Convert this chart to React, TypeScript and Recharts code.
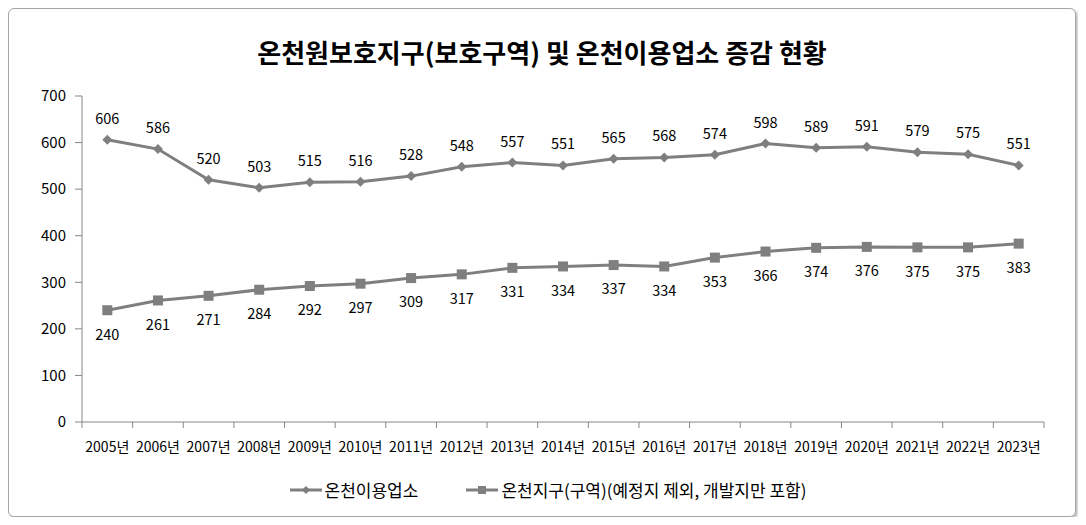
import { LabelList, Legend, Line, LineChart, XAxis, YAxis } from "recharts"

const years = [
  "2005년", "2006년", "2007년", "2008년", "2009년", "2010년", "2011년",
  "2012년", "2013년", "2014년", "2015년", "2016년", "2017년", "2018년",
  "2019년", "2020년", "2021년", "2022년", "2023년",
]
const businesses = [
  606, 586, 520, 503, 515, 516, 528, 548, 557, 551, 565, 568, 574, 598, 589,
  591, 579, 575, 551,
]
const districts = [
  240, 261, 271, 284, 292, 297, 309, 317, 331, 334, 337, 334, 353, 366, 374,
  376, 375, 375, 383,
]
const yTicks = [0, 100, 200, 300, 400, 500, 600, 700]

const SERIES_A = "온천이용업소"
const SERIES_B = "온천지구(구역)(예정지 제외, 개발지만 포함)"

const GREY = "#7f7f7f"
const AXIS = "#868686"
const FONT = '"Noto Sans CJK KR", "Noto Sans", sans-serif'

// points sit in the middle of each band, ticks mark the band edges
const data = years.map((year, i) => ({
  pos: i + 0.5,
  year,
  a: businesses[i],
  b: districts[i],
}))
const xTicks = years.flatMap((_, i) => [i, i + 0.5]).concat(years.length)

function XTick({ x, y, payload }: any) {
  const v = payload.value as number
  if (Number.isInteger(v)) {
    return <line x1={x} x2={x} y1={y - 10} y2={y - 4} stroke={AXIS} />
  }
  return (
    <text x={x} y={y} dy={20} textAnchor="middle" fontSize={14} fill="#000" fontFamily={FONT}>
      {years[Math.floor(v)]}
    </text>
  )
}

function Diamond({ cx, cy, half }: any) {
  if (cx == null || cy == null) return null
  const r = half ?? 5
  return (
    <polygon
      points={`${cx},${cy - r} ${cx + r},${cy} ${cx},${cy + r} ${cx - r},${cy}`}
      fill={GREY}
    />
  )
}

function Square({ cx, cy, side }: any) {
  if (cx == null || cy == null) return null
  const s = side ?? 10
  return <rect x={cx - s / 2} y={cy - s / 2} width={s} height={s} fill={GREY} />
}

function LegendContent() {
  const item = (name: string, marker: "d" | "s") => (
    <div style={{ display: "flex", alignItems: "center" }}>
      <svg width={32} height={14}>
        <line x1={0} x2={32} y1={7} y2={7} stroke={GREY} strokeWidth={3} />
        {marker === "d" ? <Diamond cx={16} cy={7} half={4} /> : <Square cx={16} cy={7} side={8} />}
      </svg>
      <span style={{ marginLeft: 3 }}>{name}</span>
    </div>
  )
  return (
    <div
      style={{
        display: "flex",
        justifyContent: "center",
        gap: 48,
        paddingLeft: 12,
        fontFamily: FONT,
        fontSize: 17,
        color: "#000",
      }}
    >
      {item(SERIES_A, "d")}
      {item(SERIES_B, "s")}
    </div>
  )
}

export default function App() {
  return (
    <div
      style={{
        position: "relative",
        width: 1066,
        height: 507,
        border: "1px solid #a6a6a6",
        borderRadius: 6,
        boxShadow: "2px 2px 3px rgba(0,0,0,0.25)",
        background: "#fff",
        fontFamily: FONT,
      }}
    >
      <div
        style={{
          position: "absolute",
          top: 24,
          left: 0,
          width: 1066,
          textAlign: "center",
          fontSize: 26,
          fontWeight: 700,
          color: "#000",
          paddingLeft: 0,
          boxSizing: "border-box",
        }}
      >
        온천원보호지구(보호구역) 및 온천이용업소 증감 현황
      </div>
      <LineChart
        width={1066}
        height={507}
        data={data}
        margin={{ top: 87, right: 31, left: 0, bottom: 64 }}
      >
        <XAxis
          dataKey="pos"
          type="number"
          domain={[0, years.length]}
          ticks={xTicks}
          interval={0}
          tickLine={false}
          tickSize={6}
          tickMargin={4}
          tick={<XTick />}
          axisLine={{ stroke: AXIS }}
          height={30}
        />
        <YAxis
          domain={[0, 700]}
          ticks={yTicks}
          interval={0}
          width={73}
          tickSize={7}
          tickMargin={9}
          tickLine={{ stroke: AXIS }}
          axisLine={{ stroke: AXIS }}
          tick={{ fill: "#000", fontSize: 15, fontFamily: FONT }}
        />
        <Legend
          layout="horizontal"
          verticalAlign="middle"
          content={<LegendContent />}
          wrapperStyle={{ top: 468, left: 0, width: 1066 }}
        />
        <Line
          dataKey="a"
          name={SERIES_A}
          stroke={GREY}
          strokeWidth={3}
          dot={<Diamond />}
          activeDot={false}
          isAnimationActive={false}
        >
          <LabelList dataKey="a" position="top" offset={16} fontSize={14.5} fill="#000" fontFamily={FONT} />
        </Line>
        <Line
          dataKey="b"
          name={SERIES_B}
          stroke={GREY}
          strokeWidth={3}
          dot={<Square />}
          activeDot={false}
          isAnimationActive={false}
        >
          <LabelList dataKey="b" position="bottom" offset={19} fontSize={14.5} fill="#000" fontFamily={FONT} />
        </Line>
      </LineChart>
    </div>
  )
}
